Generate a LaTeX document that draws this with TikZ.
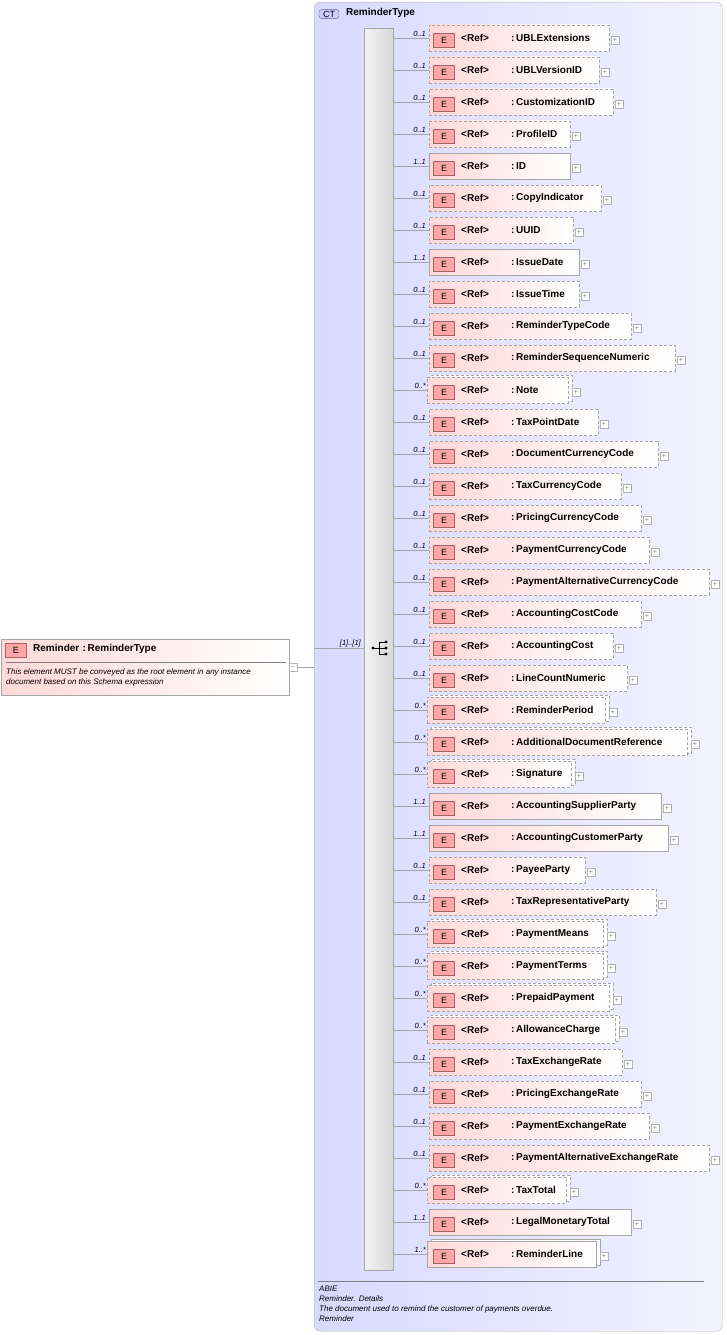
\documentclass[tikz,border=0pt]{standalone}
\usepackage{fontspec}
\setmainfont{Liberation Sans}
\begin{document}
\begin{tikzpicture}[x=1pt,y=-1pt,
 elem/.style={draw=gray!70,fill=red!10,minimum height=26pt,inner sep=0pt},
 opt/.style={dash pattern=on 3pt off 2pt},
 ebox/.style={draw=red!40!black!60,fill=red!35,minimum width=21pt,minimum height=14pt,inner sep=0pt,font=\fontsize{9}{10}\selectfont},
 lbl/.style={font=\fontsize{10}{11}\selectfont\bfseries,anchor=west,inner sep=0pt},
 mult/.style={font=\fontsize{7.5}{8}\selectfont\itshape,anchor=south east,inner sep=1pt},
 plus/.style={draw=gray!60,fill=white,minimum size=8pt,inner sep=0pt,font=\fontsize{7}{7}\selectfont,text=gray},
 conn/.style={draw=gray!70,line width=0.6pt},
 note/.style={font=\fontsize{8}{9}\selectfont\itshape,anchor=west,inner sep=0pt}]
\useasboundingbox (0,0) rectangle (727,1335);
% CT box
\node[draw=gray!60,rounded corners=6pt,left color=blue!15,right color=blue!5,minimum width=408pt,minimum height=1329pt,anchor=north west,inner sep=0pt] (ct) at (314,2) {};
\node[draw=gray!80!blue,fill=blue!20,rounded corners=3pt,font=\fontsize{9}{10}\selectfont,inner sep=1.5pt,minimum width=20pt] (ctic) at (329,14) {CT};
\node[lbl] (ctn) at (346,13) {ReminderType};
% sequence bar
\node[draw=gray!70,left color=gray!10,right color=gray!30,minimum width=29pt,minimum height=1242pt,anchor=north west,inner sep=0pt] (bar) at (364,28) {};
% seq icon
\fill (373,648) circle (1.6pt);
\draw (373,648) -- (379,648) (379,642) -- (379,654) (379,642) -- (385,642) (379,648)--(385,648) (379,654)--(385,654);
\fill (386,642) circle (1.6pt) (386,648) circle (1.6pt) (386,654) circle (1.6pt);
% root element
\node[elem,draw=gray!70,left color=red!15,right color=white,minimum width=288pt,minimum height=56pt,anchor=north west] (root) at (1,639) {};
\node[ebox] (rootE) at (16,650) {E};
\node[lbl] (rootN) at (33,649) {Reminder\,\,:\,ReminderType};
\draw[gray] (6,662) -- (286,662);
\node[note] (rootD1) at (6,672) {This element MUST be conveyed as the root element in any instance};
\node[note] (rootD2) at (6,682) {document based on this Schema expression};
\node[plus] (rootm) at (293,667) {--};
\draw[conn] (rootm) -- (ct.west |- rootm);
\coordinate (cl) at (314,648);
\draw[conn] (cl) -- (bar.west |- cl);
\node[mult] at (362,648) {[1]..[1]};
% children
\foreach \i/\n/\r/\m/\o [count=\k from 0] in {
 1/UBLExtensions/609/0..1/1, 2/UBLVersionID/599/0..1/1, 3/CustomizationID/613/0..1/1,
 4/ProfileID/570/0..1/1, 5/ID/570/1..1/0, 6/CopyIndicator/601/0..1/1, 7/UUID/573/0..1/1,
 8/IssueDate/579/1..1/0, 9/IssueTime/579/0..1/1, 10/ReminderTypeCode/631/0..1/1,
 11/ReminderSequenceNumeric/675/0..1/1, 12/Note/570/0..*/2, 13/TaxPointDate/598/0..1/1,
 14/DocumentCurrencyCode/658/0..1/1, 15/TaxCurrencyCode/621/0..1/1, 16/PricingCurrencyCode/641/0..1/1,
 17/PaymentCurrencyCode/649/0..1/1, 18/PaymentAlternativeCurrencyCode/709/0..1/1,
 19/AccountingCostCode/641/0..1/1, 20/AccountingCost/613/0..1/1, 21/LineCountNumeric/627/0..1/1,
 22/ReminderPeriod/607/0..*/2, 23/AdditionalDocumentReference/689/0..*/2, 24/Signature/573/0..*/2,
 25/AccountingSupplierParty/661/1..1/0, 26/AccountingCustomerParty/668/1..1/0, 27/PayeeParty/585/0..1/1,
 28/TaxRepresentativeParty/656/0..1/1, 29/PaymentMeans/605/0..*/2, 30/PaymentTerms/605/0..*/2,
 31/PrepaidPayment/611/0..*/2, 32/AllowanceCharge/617/0..*/2, 33/TaxExchangeRate/622/0..1/1,
 34/PricingExchangeRate/641/0..1/1, 35/PaymentExchangeRate/649/0..1/1,
 36/PaymentAlternativeExchangeRate/709/0..1/1, 37/TaxTotal/568/0..*/2,
 38/LegalMonetaryTotal/631/1..1/0, 39/ReminderLine/598/1..*/3} {
 \pgfmathsetmacro{\yy}{38+32*\k}
 \pgfmathsetmacro{\ww}{\r-429}
 \ifnum\o=0
  \node[elem,left color=red!15,right color=white,minimum width=\ww pt,anchor=west] (c\i) at (429,\yy) {};
 \else\ifnum\o=1
  \node[elem,opt,left color=red!15,right color=white,minimum width=\ww pt,anchor=west] (c\i) at (429,\yy) {};
 \else\ifnum\o=2
  \node[elem,opt,fill=white,minimum width=\ww pt,anchor=west] at (431,\yy-2) {};
  \node[elem,opt,left color=red!15,right color=white,minimum width=\ww pt,anchor=west] (c\i) at (427,\yy) {};
 \else
  \node[elem,fill=white,minimum width=\ww pt,anchor=west] at (431,\yy-2) {};
  \node[elem,left color=red!15,right color=white,minimum width=\ww pt,anchor=west] (c\i) at (427,\yy) {};
 \fi\fi\fi
 \node[ebox] (e\i) at (444,\yy+2) {E};
 \node[lbl] (r\i) at (461,\yy) {<Ref>};
 \node[lbl] (n\i) at (511,\yy) {:\,\n};
 \node[plus] (p\i) at (\r+6,\yy+2) {+};
 \draw[conn] (bar.east |- c\i.west) -- (c\i.west);
 \node[mult] at (427,\yy) {\m};
}
% footer
\draw[gray] (318,1281) -- (704,1281);
\node[note] (f1) at (319,1289) {ABIE};
\node[note] (f2) at (319,1299) {Reminder. Details};
\node[note] (f3) at (319,1309) {The document used to remind the customer of payments overdue.};
\node[note] (f4) at (319,1319) {Reminder};
\end{tikzpicture}
\end{document}
